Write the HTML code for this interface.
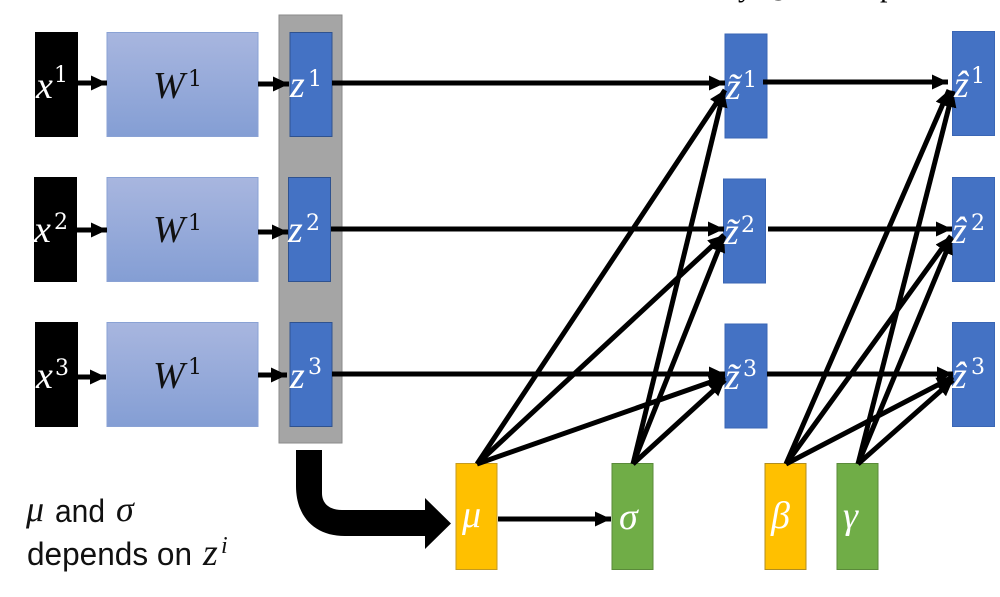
<!DOCTYPE html>
<html><head><meta charset="utf-8"><style>
html,body{margin:0;padding:0;background:#fff}
svg{display:block}
.m{font-family:"Liberation Serif",serif;font-style:italic}
.u{font-family:"Liberation Serif",serif}
.s{font-family:"DejaVu Serif",serif}
.t{font-family:"Liberation Sans",sans-serif}
</style></head><body>
<svg width="1000" height="597" viewBox="0 0 1000 597" xmlns="http://www.w3.org/2000/svg">
<defs>
<linearGradient id="g" x1="0" y1="0" x2="0" y2="1"><stop offset="0" stop-color="#a8b6df"/><stop offset="1" stop-color="#849ed4"/></linearGradient>
<marker id="a" markerUnits="userSpaceOnUse" markerWidth="18" markerHeight="18" refX="16" refY="9" orient="auto"><path d="M0,1.500L16,9L0,16.500Z" fill="#000"/></marker>
</defs>
<rect width="1000" height="597" fill="#fff"/>
<text x="738" y="-4" font-size="30" class="u">y</text>
<text x="771" y="-6" font-size="30" class="u">g</text>
<text x="880" y="-4" font-size="30" class="u">p</text>
<rect x="279" y="15" width="63" height="428" fill="#a5a5a5" stroke="#8a8a8a" stroke-width="1"/>
<g fill="#000">
<rect x="35" y="32" width="43" height="105"/><rect x="34" y="177" width="43" height="105"/><rect x="35" y="322" width="43" height="105"/>
</g>
<g fill="url(#g)" stroke="#8aa2d4" stroke-width="1">
<rect x="107" y="32.5" width="151" height="104"/><rect x="107" y="177.5" width="151" height="104"/><rect x="107" y="322.5" width="151" height="104"/>
</g>
<g fill="#4472c4" stroke="#2f528f" stroke-width="1">
<rect x="290" y="32.5" width="42" height="104"/><rect x="288.500" y="177.500" width="42" height="104"/><rect x="290" y="322.500" width="42" height="104"/>
</g>
<g fill="#4472c4" stroke="#3a66b5" stroke-width="1">
<rect x="725" y="34" width="42" height="104"/><rect x="723.500" y="179" width="42" height="104"/><rect x="725" y="324" width="42" height="104"/>
<rect x="952.500" y="31.500" width="42" height="104"/><rect x="952.500" y="177.500" width="42" height="104"/><rect x="952.500" y="322.500" width="42" height="104"/>
</g>
<rect x="456" y="463.500" width="41" height="106" fill="#ffc000" stroke="#c49a20"/>
<rect x="612" y="463.500" width="41" height="106" fill="#70ad47" stroke="#5a8a3a"/>
<rect x="765" y="463.500" width="41" height="106" fill="#ffc000" stroke="#b08d20"/>
<rect x="837" y="463.500" width="41" height="106" fill="#70ad47" stroke="#5a8a3a"/>

<g stroke="#000" stroke-width="5" fill="none">
<path d="M78,83H107" marker-end="url(#a)"/>
<path d="M77,230H107" marker-end="url(#a)"/>
<path d="M78,377H106" marker-end="url(#a)"/>
<path d="M258,84H289" marker-end="url(#a)"/>
<path d="M258,232H288" marker-end="url(#a)"/>
<path d="M258,375H287" marker-end="url(#a)"/>
<path d="M332,83H725" marker-end="url(#a)"/>
<path d="M331,229H724" marker-end="url(#a)"/>
<path d="M332,374H725" marker-end="url(#a)"/>
<path d="M763,82H948" marker-end="url(#a)"/>
<path d="M768,229H952" marker-end="url(#a)"/>
<path d="M767,374H953" marker-end="url(#a)"/>
<path d="M498,519H611" marker-end="url(#a)"/>
<path d="M477,464L725,90" marker-end="url(#a)"/>
<path d="M477,464L724,235" marker-end="url(#a)"/>
<path d="M477,464L725,377" marker-end="url(#a)"/>
<path d="M633,464L724,91" marker-end="url(#a)"/>
<path d="M633,464L724,236" marker-end="url(#a)"/>
<path d="M633,464L725,380" marker-end="url(#a)"/>
<path d="M786,464L949,90" marker-end="url(#a)"/>
<path d="M786,464L951,236" marker-end="url(#a)"/>
<path d="M786,464L953,377" marker-end="url(#a)"/>
<path d="M858,464L953,91" marker-end="url(#a)"/>
<path d="M858,464L952,238" marker-end="url(#a)"/>
<path d="M858,464L953,380" marker-end="url(#a)"/>
</g>

<path d="M296,450H322V493C322,504 330,510 342,510H425V498L451,523.500L425,549V536H345C314,536 296,516 296,486Z" fill="#000"/>

<g fill="#fff" font-size="38">
<text x="36" y="98" class="m">x</text><text x="34" y="242" class="m">x</text><text x="36" y="388" class="m">x</text>
<text x="290" y="97" class="m">z</text><text x="288" y="242" class="m">z</text><text x="290" y="388" class="m">z</text>
<text x="726" y="99" class="m">z̃</text><text x="724" y="244" class="m">z̃</text><text x="725" y="389" class="m">z̃</text>
<text x="954" y="97" class="m">ẑ</text><text x="952" y="243" class="m">ẑ</text><text x="952" y="388" class="m">ẑ</text>
</g>
<g fill="#fff" font-size="22" class="s">
<text x="54" y="82">1</text><text x="54" y="229">2</text><text x="55" y="375">3</text>
<text x="308" y="86">1</text><text x="306" y="230">2</text><text x="308" y="374">3</text>
<text x="743" y="87">1</text><text x="741" y="232">2</text><text x="743" y="376">3</text>
<text x="971" y="83">1</text><text x="971" y="230">2</text><text x="971" y="374">3</text>
</g>
<g fill="#111">
<text x="153" y="98" font-size="38" class="m">W</text><text x="153" y="242" font-size="38" class="m">W</text><text x="153" y="388" font-size="38" class="m">W</text>
<text x="188" y="86" font-size="22" class="s">1</text><text x="188" y="230" font-size="22" class="s">1</text><text x="188" y="374" font-size="22" class="s">1</text>
</g>
<g fill="#fff" font-size="38" class="m">
<text x="462" y="527">μ</text><text x="619" y="529">σ</text><text x="771" y="528">β</text><text x="843" y="528">γ</text>
</g>
<g fill="#111">
<text x="26" y="521" font-size="36" class="m">μ</text>
<text x="55" y="522" font-size="32" class="t" textLength="50" lengthAdjust="spacingAndGlyphs">and</text>
<text x="116" y="521" font-size="36" class="m">σ</text>
<text x="27" y="565" font-size="32" class="t" textLength="165" lengthAdjust="spacingAndGlyphs">depends on</text>
<text x="203" y="565" font-size="38" class="m">z</text>
<text x="221" y="553" font-size="24" class="m">i</text>
</g>
</svg>
</body></html>
